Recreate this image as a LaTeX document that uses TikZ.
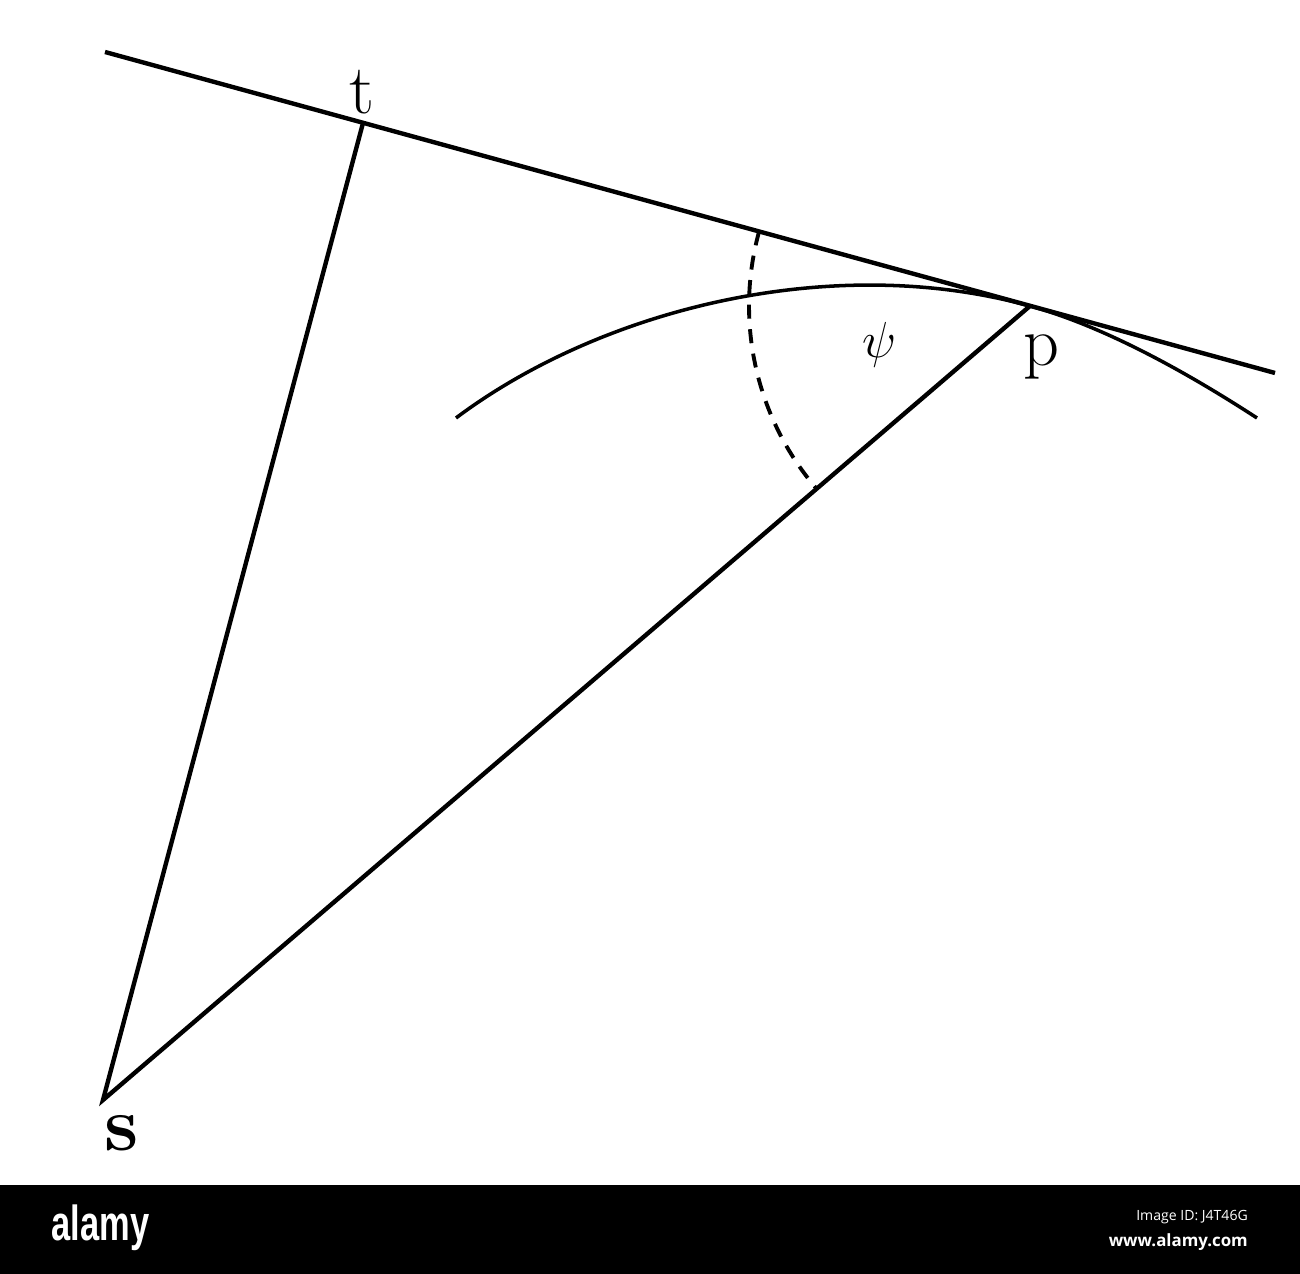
\documentclass[tikz,border=0pt]{standalone}
\usepackage{amssymb,amsmath}
\usepackage{fontspec}
\newfontfamily\wmfont{Open Sans}
\newfontfamily\logofont{Liberation Sans}
\usetikzlibrary{calc,positioning}

\begin{document}
\begin{tikzpicture}[x=0.01cm, y=-0.01cm, line width=1.25pt,
  lbl/.style={inner sep=0pt, font=\fontsize{20}{24}\selectfont}]
\useasboundingbox (0,0) rectangle (1300,1274);
\coordinate (tanL) at (105,52);
\coordinate (tanR) at (1275,373);
\coordinate (t) at (363,123);
\coordinate (p) at (1030,306);
\coordinate (s) at (103,1100);
\coordinate (cL) at (456,418);
\coordinate (cR) at (1257,418);
% tangent, perpendicular and radius vector
\draw (tanL) -- (tanR);
\draw (t) -- (s) -- (p);
% the orbit
\draw [line width=1pt] (cL) .. controls (600,310) and (830,251) .. (p)
  .. controls (1110,328) and (1197,379) .. (cR);
% angle psi
\draw [line width=1.1pt, dash pattern=on 4pt off 3pt] ($(p)+(195.34:281)$) arc [start angle=195.34, end angle=139.42, radius=281];
\node [lbl] (tlab) at (362,92) {t};
\node [lbl] (plab) at (1041,357) {p};
\node [lbl, font=\fontsize{15}{17}\selectfont] (psilab) at (880,345) {$\psi$};
\node [lbl, font=\fontsize{22}{26}\selectfont] (slab) at (122,1133) {\textbf{s}};
% stock bar
\fill (0,1185) rectangle (1300,1274);
\node [inner sep=0pt, text=white, anchor=base west, xscale=0.7, font=\logofont\bfseries\fontsize{14}{16}\selectfont] (logo) at (50,1241) {alamy};
\node [inner sep=0pt, text=white, anchor=base east, font=\wmfont\fontsize{4}{5}\selectfont] (imgid) at (1250,1221) {Image ID: J4T46G};
\node [inner sep=0pt, text=white, anchor=base east, font=\wmfont\bfseries\fontsize{4.8}{6}\selectfont] (www) at (1250,1246) {www.alamy.com};
\end{tikzpicture}
\end{document}
